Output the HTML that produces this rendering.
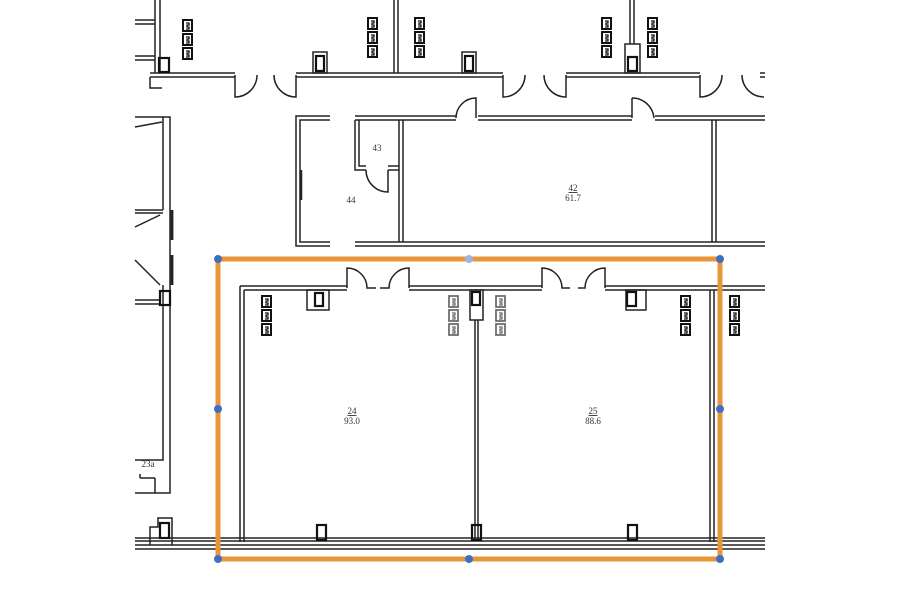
<!DOCTYPE html>
<html><head><meta charset="utf-8"><style>html,body{margin:0;padding:0;background:#fff}svg{display:block}</style></head><body>
<svg width="900" height="604" viewBox="0 0 900 604" xmlns="http://www.w3.org/2000/svg" font-family="Liberation Serif, serif">
<defs>
<g id="o"><rect x="0" y="0" width="9" height="11" fill="#fff" stroke="#111" stroke-width="2"/><path d="M3 3h3v2h-2v2h2v2h-3" fill="none" stroke="#111" stroke-width="1.3"/></g>
<g id="o3"><use href="#o" y="0"/><use href="#o" y="14"/><use href="#o" y="28"/></g>
<g id="og"><rect x="0" y="0" width="9" height="11" fill="#fff" stroke="#666" stroke-width="1.7"/><path d="M3 3h3v2h-2v2h2v2h-3" fill="none" stroke="#666" stroke-width="1.2"/></g>
<g id="og3"><use href="#og" y="0"/><use href="#og" y="14"/><use href="#og" y="28"/></g>
</defs>
<g fill="none" stroke="#222" stroke-width="1.5">
<path d="M155 0V73M160 0V73M394 0V73M398 0V73M630 0V44M634 0V44"/>
<path d="M135 20H155M135 24H155M135 56H155M135 60H155"/>
<rect x="625" y="44" width="15" height="29"/>
<path d="M150 73H235M150 77H235M296 73H503M296 77H503M566 73H700M566 77H700M760 73H765M760 77H765"/>
<path d="M150 77V88H162"/>
<path d="M235 75V97A22 22 0 0 0 257 75M274 75A22 22 0 0 0 296 97V75M503 75V97A22 22 0 0 0 525 75M544 75A22 22 0 0 0 566 97V75M700 75V97A22 22 0 0 0 722 75M742 75A22 22 0 0 0 764 97"/>
<rect x="313" y="52" width="14" height="21"/><rect x="462" y="52" width="14" height="21"/>
</g>
<g fill="none" stroke="#111" stroke-width="2.2"><rect x="159" y="58" width="10" height="14"/><rect x="316" y="56" width="8" height="15"/><rect x="465" y="56" width="8" height="15"/><rect x="628" y="57" width="9" height="14"/></g>
<use href="#o3" x="183" y="20"/><use href="#o3" x="368" y="18"/><use href="#o3" x="415" y="18"/><use href="#o3" x="602" y="18"/><use href="#o3" x="648" y="18"/>

<g fill="none" stroke="#222" stroke-width="1.5">
<path d="M330 116H296V246H330M330 120H300V242H330"/>
<path d="M301 170V200" stroke-width="2.5"/>
<path d="M355 116H456M355 120H456M478 116H632M478 120H632M655 116H765M655 120H765"/>
<path d="M456 118A20 20 0 0 1 476 98V118M632 98A22 22 0 0 1 654 118M632 98V118"/>
<path d="M355 242H765M355 246H765"/>
<path d="M399 120V242M403 120V242M712 120V242M716 120V242"/>
<path d="M355 120V170H366M359 120V166H366M388 170H399M388 166H399M366 170A22 22 0 0 0 388 192V170"/>
<path d="M135 117H170V493H135M163 117V210M135 210H163M135 213H163M135 127L162 122M135 227L160 215M135 260L160 285M163 285V460H135"/>
<path d="M172 210V240M172 255V285" stroke-width="2.8"/>
<path d="M135 300H160M135 304H160"/>
<path d="M140 478H155M140 478V474M155 478V493"/>
</g>
<rect x="160" y="291" width="10" height="14" fill="none" stroke="#111" stroke-width="2.2"/>
<text x="377" y="151" font-size="9" fill="#333" text-anchor="middle">43</text>
<text x="351" y="203" font-size="9" fill="#333" text-anchor="middle">44</text>
<text x="573" y="191" font-size="9" fill="#333" text-anchor="middle" text-decoration="underline">42</text>
<text x="573" y="201" font-size="9" fill="#333" text-anchor="middle">61.7</text>

<g fill="none" stroke="#222" stroke-width="1.5">
<path d="M240 286H347M244 290H347M409 286H542M409 290H542M605 286H765M605 290H765"/>
<path d="M240 286V542M244 290V542M710 290V542M714 290V542"/>
<path d="M347 288V268A20 20 0 0 1 367 288H376M380 288H389A20 20 0 0 1 409 268V288"/>
<path d="M542 288V268A20 20 0 0 1 562 288H570M578 288H585A20 20 0 0 1 605 268V288"/>
<path d="M475 320V540M478 320V540"/>
<rect x="470" y="290" width="13" height="30"/>
<rect x="307" y="290" width="22" height="20"/><rect x="626" y="290" width="20" height="20"/>
<path d="M135 538H765M135 541H765M135 545H765M135 549H765"/>
<path d="M150 545V527H158V518H172V545"/>
</g>
<g fill="none" stroke="#111" stroke-width="2.2"><rect x="315" y="293" width="8" height="13"/><rect x="472" y="292" width="8" height="13"/><rect x="627" y="292" width="9" height="14"/><rect x="317" y="525" width="9" height="15"/><rect x="472" y="525" width="9" height="15"/><rect x="628" y="525" width="9" height="15"/><rect x="160" y="523" width="9" height="15"/></g>
<use href="#o3" x="262" y="296"/><use href="#og3" x="449" y="296"/><use href="#og3" x="496" y="296"/><use href="#o3" x="681" y="296"/><use href="#o3" x="730" y="296"/>
<text x="352" y="414" font-size="9" fill="#333" text-anchor="middle" text-decoration="underline">24</text>
<text x="352" y="424" font-size="9" fill="#333" text-anchor="middle">93.0</text>
<text x="593" y="414" font-size="9" fill="#333" text-anchor="middle" text-decoration="underline">25</text>
<text x="593" y="424" font-size="9" fill="#333" text-anchor="middle">88.6</text>
<text x="148" y="467" font-size="9" fill="#333" text-anchor="middle">23a</text>

<rect x="218" y="259" width="502" height="300" fill="none" stroke="#e8963a" stroke-width="5"/>
<g fill="#3e6fc2">
<circle cx="218" cy="259" r="4"/><circle cx="469" cy="259" r="4" fill="#9db5df"/><circle cx="720" cy="259" r="4"/>
<circle cx="218" cy="409" r="4"/><circle cx="720" cy="409" r="4"/>
<circle cx="218" cy="559" r="4"/><circle cx="469" cy="559" r="4"/><circle cx="720" cy="559" r="4"/>
</g>
</svg>
</body></html>
